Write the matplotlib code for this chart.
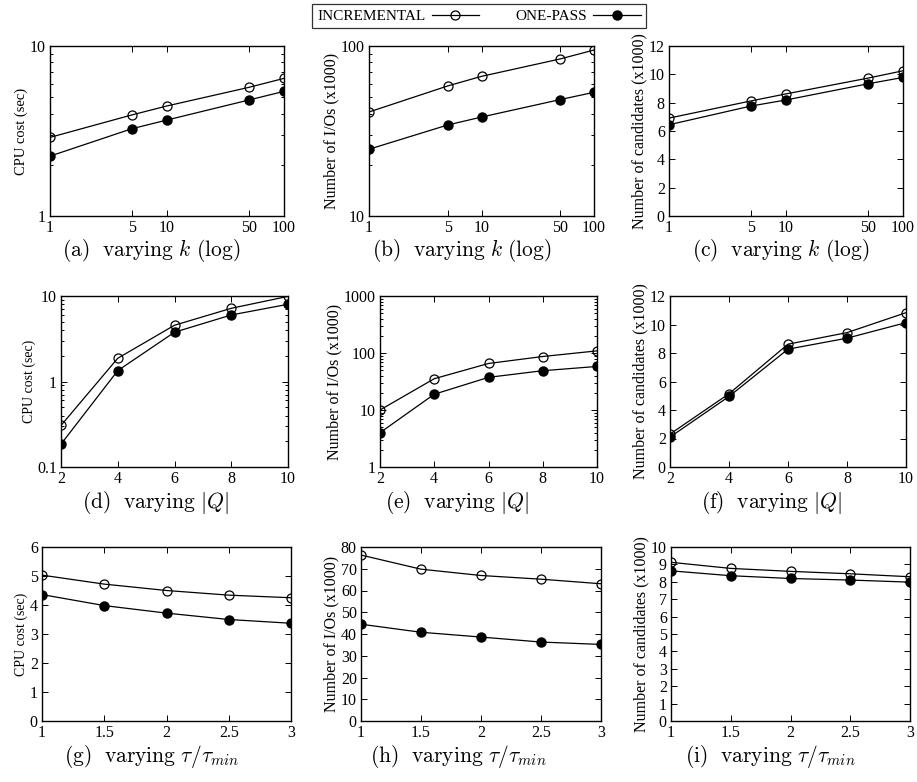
import numpy as np
import matplotlib
matplotlib.use("Agg")
import matplotlib.pyplot as plt
from matplotlib.ticker import FixedLocator, FuncFormatter, LogLocator, NullFormatter

plt.rcParams['font.family'] = ['Liberation Serif', 'DejaVu Serif']
plt.rcParams['mathtext.fontset'] = 'cm'

# ---- data ----
k_vals = [1, 5, 10, 50, 100]
q_vals = [2, 4, 6, 8, 10]
tau_vals = [1, 1.5, 2, 2.5, 3]

cpu_k_inc = [2.9, 3.93, 4.44, 5.71, 6.45]
cpu_k_one = [2.25, 3.26, 3.67, 4.81, 5.41]
io_k_inc = [40.9, 58.2, 66.3, 83.9, 94.7]
io_k_one = [24.7, 34.3, 38.2, 48.4, 53.4]
cand_k_inc = [6.91, 8.12, 8.62, 9.73, 10.25]
cand_k_one = [6.44, 7.76, 8.19, 9.33, 9.78]

cpu_q_inc = [0.306, 1.87, 4.55, 7.18, 9.9]
cpu_q_one = [0.185, 1.34, 3.77, 6.0, 8.0]
io_q_inc = [10.0, 35.4, 65.5, 86.8, 109]
io_q_one = [4.0, 18.9, 37.4, 48.9, 58.1]
cand_q_inc = [2.31, 5.14, 8.62, 9.43, 10.83]
cand_q_one = [2.10, 4.95, 8.27, 9.04, 10.13]

cpu_t_inc = [5.03, 4.72, 4.50, 4.34, 4.25]
cpu_t_one = [4.36, 3.98, 3.72, 3.50, 3.37]
io_t_inc = [76.3, 69.8, 66.9, 65.2, 63.1]
io_t_one = [44.5, 40.8, 38.6, 36.3, 35.2]
cand_t_inc = [9.12, 8.77, 8.60, 8.46, 8.29]
cand_t_one = [8.63, 8.35, 8.19, 8.10, 7.98]

W, H = 917, 782
fig = plt.figure(figsize=(W / 100, H / 100), dpi=100)


def px_axes(l, r, t, b):
    return fig.add_axes([l / W, 1 - b / H, (r - l) / W, (b - t) / H])


def fmt(v, pos):
    return '%g' % v


def draw(ax, x, inc, one, ylabel, xticks, yticks, logx=False, logy=False, lsize=11.5):
    l1, = ax.plot(x, inc, color='black', lw=0.9, marker='o', ms=6.5,
                  mfc='none', mec='black', mew=0.9)
    l2, = ax.plot(x, one, color='black', lw=0.9, marker='o', ms=6.5,
                  mfc='black', mec='black')
    if logx:
        ax.set_xscale('log')
    if logy:
        ax.set_yscale('log')
        ax.yaxis.set_minor_locator(LogLocator(base=10, subs=np.arange(2, 10)))
        ax.yaxis.set_minor_formatter(NullFormatter())
    ax.xaxis.set_major_locator(FixedLocator(xticks))
    ax.yaxis.set_major_locator(FixedLocator(yticks))
    ax.xaxis.set_major_formatter(FuncFormatter(fmt))
    ax.yaxis.set_major_formatter(FuncFormatter(fmt))
    ax.xaxis.set_minor_formatter(NullFormatter())
    ax.xaxis.set_minor_locator(FixedLocator([]))
    ax.set_xlim(xticks[0], xticks[-1])
    ax.set_ylim(yticks[0], yticks[-1])
    ax.tick_params(which='both', direction='in', top=True, right=True,
                   labelsize=11.5, width=0.7, pad=3)
    ax.tick_params(which='major', length=4)
    ax.tick_params(which='minor', length=2)
    for s in ax.spines.values():
        s.set_linewidth(1.0)
    ax.set_ylabel(ylabel, fontsize=lsize, labelpad=1)
    return l1, l2


# row 1: varying k
ax = px_axes(50, 284, 46, 216)
h1, h2 = draw(ax, k_vals, cpu_k_inc, cpu_k_one, 'CPU cost (sec)', k_vals, [1, 10],
              logx=True, logy=True, lsize=10.5)
ax = px_axes(369, 594, 46, 216)
draw(ax, k_vals, io_k_inc, io_k_one, 'Number of I/Os (x1000)', k_vals, [10, 100],
     logx=True, logy=True)
ax = px_axes(669, 903, 46, 216)
draw(ax, k_vals, cand_k_inc, cand_k_one, 'Number of candidates (x1000)', k_vals,
     list(range(0, 13, 2)), logx=True)

# row 2: varying |Q|
ax = px_axes(61, 288, 296, 467)
draw(ax, q_vals, cpu_q_inc, cpu_q_one, 'CPU cost (sec)', q_vals, [0.1, 1, 10],
     logy=True, lsize=10)
ax = px_axes(380, 597, 296, 467)
draw(ax, q_vals, io_q_inc, io_q_one, 'Number of I/Os (x1000)', q_vals, [1, 10, 100, 1000],
     logy=True)
ax = px_axes(670, 906, 296, 467)
draw(ax, q_vals, cand_q_inc, cand_q_one, 'Number of candidates (x1000)', q_vals,
     list(range(0, 13, 2)))

# row 3: varying tau/tau_min
ax = px_axes(42, 291, 547, 721)
draw(ax, tau_vals, cpu_t_inc, cpu_t_one, 'CPU cost (sec)', tau_vals, list(range(0, 7)),
     lsize=10)
ax = px_axes(361, 601, 547, 721)
draw(ax, tau_vals, io_t_inc, io_t_one, 'Number of I/Os (x1000)', tau_vals,
     list(range(0, 81, 10)))
ax = px_axes(671, 910, 547, 721)
draw(ax, tau_vals, cand_t_inc, cand_t_one, 'Number of candidates (x1000)', tau_vals,
     list(range(0, 11)))

# captions
captions = [
    (151, 251, r'$\mathrm{(a)\ \ varying}\ k\ \mathrm{(log)}$'),
    (462, 251, r'$\mathrm{(b)\ \ varying}\ k\ \mathrm{(log)}$'),
    (781, 251, r'$\mathrm{(c)\ \ varying}\ k\ \mathrm{(log)}$'),
    (155, 503, r'$\mathrm{(d)\ \ varying}\ |Q|$'),
    (457, 503, r'$\mathrm{(e)\ \ varying}\ |Q|$'),
    (772, 503, r'$\mathrm{(f)\ \ varying}\ |Q|$'),
    (152, 757, r'$\mathrm{(g)\ \ varying}\ \tau/\tau_{min}$'),
    (458, 757, r'$\mathrm{(h)\ \ varying}\ \tau/\tau_{min}$'),
    (770, 757, r'$\mathrm{(i)\ \ varying}\ \tau/\tau_{min}$'),
]
for cx, cy, txt in captions:
    fig.text(cx / W, 1 - cy / H, txt, ha='center', va='center', fontsize=15.5)

leg = fig.legend([h1, h2], ['INCREMENTAL', 'ONE-PASS'], loc='center',
                 bbox_to_anchor=(479 / W, 1 - 16 / H), ncol=2, markerfirst=False,
                 frameon=True, fancybox=False, edgecolor='black', fontsize=11,
                 handlelength=3.1, columnspacing=2.4, borderpad=0.35,
                 handletextpad=0.4)
leg.get_frame().set_linewidth(0.9)

fig.savefig('out.png', dpi=100)
